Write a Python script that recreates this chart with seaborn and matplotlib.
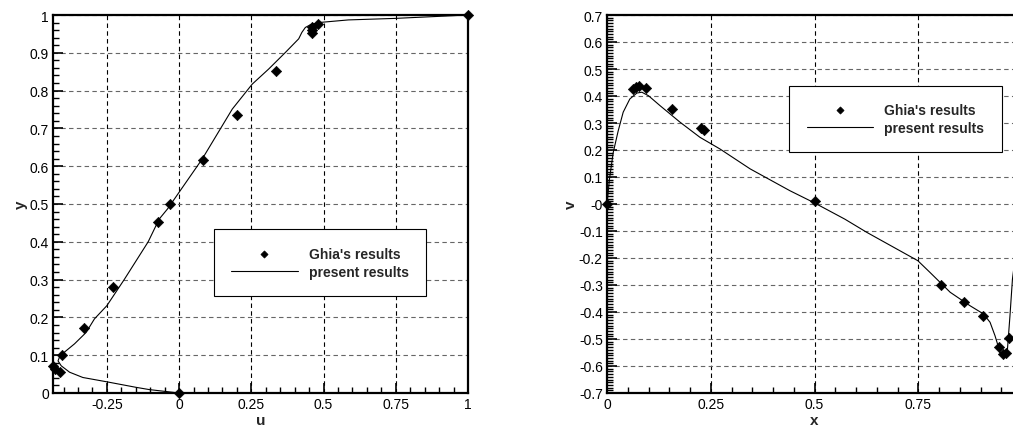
import numpy as np
import pandas as pd
import seaborn as sns
import matplotlib
matplotlib.use("Agg")
import matplotlib.pyplot as plt
from matplotlib.ticker import MultipleLocator, FuncFormatter

# Ghia et al. data (Re = 5000), vertical centreline
y_ghia = [1.0000, 0.9766, 0.9688, 0.9609, 0.9531, 0.8516, 0.7344, 0.6172, 0.5000,
          0.4531, 0.2813, 0.1719, 0.1016, 0.0703, 0.0625, 0.0547, 0.0000]
u_ghia = [1.0, 0.48223, 0.46120, 0.45992, 0.46036, 0.33556, 0.20087, 0.08183, -0.03039,
          -0.07404, -0.22855, -0.33050, -0.40435, -0.43643, -0.42901, -0.41165, 0.0]

# Ghia et al. data, horizontal centreline
x_ghia = [1.0, 0.9688, 0.9609, 0.9531, 0.9453, 0.9063, 0.8594, 0.8047, 0.5,
          0.2344, 0.2266, 0.1563, 0.0938, 0.0781, 0.0703, 0.0625, 0.0]
v_ghia = [0.0, -0.49774, -0.55069, -0.55408, -0.52876, -0.41442, -0.36214, -0.30018, 0.00945,
          0.27280, 0.28066, 0.35368, 0.42951, 0.43648, 0.43329, 0.42447, 0.0]

# present results
u_line = [0.0, -0.103, -0.149, -0.253, -0.333, -0.379, -0.408, -0.419, -0.413, -0.397,
          -0.362, -0.322, -0.293, -0.25, -0.19, -0.107, -0.069, -0.04, 0.08, 0.184, 0.253,
          0.31, 0.368, 0.414, 0.425, 0.437, 0.454, 0.483, 0.586, 0.747, 1.0]
y_line = [0.0, 0.009, 0.015, 0.030, 0.041, 0.055, 0.072, 0.085, 0.097, 0.108,
          0.13, 0.16, 0.196, 0.231, 0.3, 0.4, 0.46, 0.487, 0.619, 0.751, 0.817,
          0.857, 0.901, 0.937, 0.954, 0.967, 0.974, 0.980, 0.987, 0.991, 1.0]

x_line = [0.0, 0.006, 0.015, 0.027, 0.039, 0.055, 0.072, 0.084, 0.1, 0.128, 0.176, 0.224,
          0.272, 0.345, 0.441, 0.5, 0.573, 0.626, 0.749, 0.778, 0.827, 0.875, 0.907, 0.923,
          0.935, 0.947, 0.957, 0.965, 0.971, 0.977, 1.0]
v_line = [0.0, 0.093, 0.191, 0.271, 0.34, 0.389, 0.411, 0.414, 0.401, 0.364, 0.303, 0.247,
          0.204, 0.13, 0.049, 0.004, -0.056, -0.105, -0.21, -0.253, -0.327, -0.377, -0.407,
          -0.438, -0.488, -0.549, -0.564, -0.537, -0.414, -0.278, 0.0]

sns.set_style("ticks")
plt.rcParams['font.family'] = ['Liberation Sans', 'DejaVu Sans']

W, H = 1013, 427
fig = plt.figure(figsize=(W / 100, H / 100), dpi=100)
ax1 = fig.add_axes([53 / W, (H - 394) / H, 415 / W, 378 / H])
ax2 = fig.add_axes([607 / W, (H - 394) / H, 415 / W, 378 / H])

fmt = FuncFormatter(lambda v, p: f"{round(v, 3):g}")


def style_axes(ax, xticks, ymin, ymax, ystep, yminor, xmin):
    ax.set_xlim(xmin, 1.0)
    ax.set_ylim(ymin, ymax)
    ax.set_xticks(xticks)
    ax.set_yticks(np.round(np.arange(ymin, ymax + 1e-9, ystep), 3))
    ax.xaxis.set_minor_locator(MultipleLocator(0.05))
    ax.yaxis.set_minor_locator(MultipleLocator(yminor))
    ax.xaxis.set_major_formatter(fmt)
    ax.yaxis.set_major_formatter(fmt)
    ax.tick_params(which='both', direction='in', top=False, right=False,
                   labelsize=10, width=1.2, colors='black')
    ax.tick_params(which='major', length=7, pad=3)
    ax.tick_params(which='minor', length=4, width=1)
    for s in ax.spines.values():
        s.set_linewidth(1.6)
        s.set_color('black')
    ax.xaxis.grid(True, linestyle=(0, (4, 3)), color='black', linewidth=0.8)
    ax.yaxis.grid(True, linestyle=(0, (4, 3)), color='0.4', linewidth=0.8)


def add_legend(ax, cx, cy):
    leg = ax.legend(loc='center', bbox_to_anchor=(cx, cy), frameon=True, fancybox=False,
                    edgecolor='black', framealpha=1, borderpad=1.25, handlelength=4.8,
                    handletextpad=0.8, labelspacing=0.3, markerscale=0.7,
                    prop={'weight': 'bold', 'size': 10})
    leg.get_frame().set_linewidth(0.8)


# left: u along vertical centreline
sns.scatterplot(x=u_ghia, y=y_ghia, ax=ax1, marker='D', s=28, color='black',
                edgecolor='black', label="Ghia's results", clip_on=False, zorder=5)
sns.lineplot(data=pd.DataFrame({'u': u_line, 'y': y_line}), x='u', y='y', ax=ax1,
             sort=False, estimator=None, color='black', linewidth=0.8,
             label='present results')
style_axes(ax1, [-0.25, 0, 0.25, 0.5, 0.75, 1.0], 0, 1.0, 0.1, 0.02, min(u_ghia))
ax1.set_xlabel('u', fontweight='bold', fontsize=11, labelpad=1)
ax1.set_ylabel('y', fontweight='bold', fontsize=11, labelpad=1)
add_legend(ax1, 0.643, 0.345)

# right: v along horizontal centreline
sns.scatterplot(x=x_ghia, y=v_ghia, ax=ax2, marker='D', s=28, color='black',
                edgecolor='black', label="Ghia's results", clip_on=False, zorder=5)
sns.lineplot(data=pd.DataFrame({'x': x_line, 'v': v_line}), x='x', y='v', ax=ax2,
             sort=False, estimator=None, color='black', linewidth=0.8,
             label='present results')
style_axes(ax2, [0, 0.25, 0.5, 0.75], -0.7, 0.7, 0.1, 0.01, 0.0)
ax2.set_xlabel('x', fontweight='bold', fontsize=11, labelpad=1)
ax2.set_ylabel('v', fontweight='bold', fontsize=11, labelpad=1)
add_legend(ax2, 0.695, 0.725)

fig.savefig('out.png', dpi=100)
